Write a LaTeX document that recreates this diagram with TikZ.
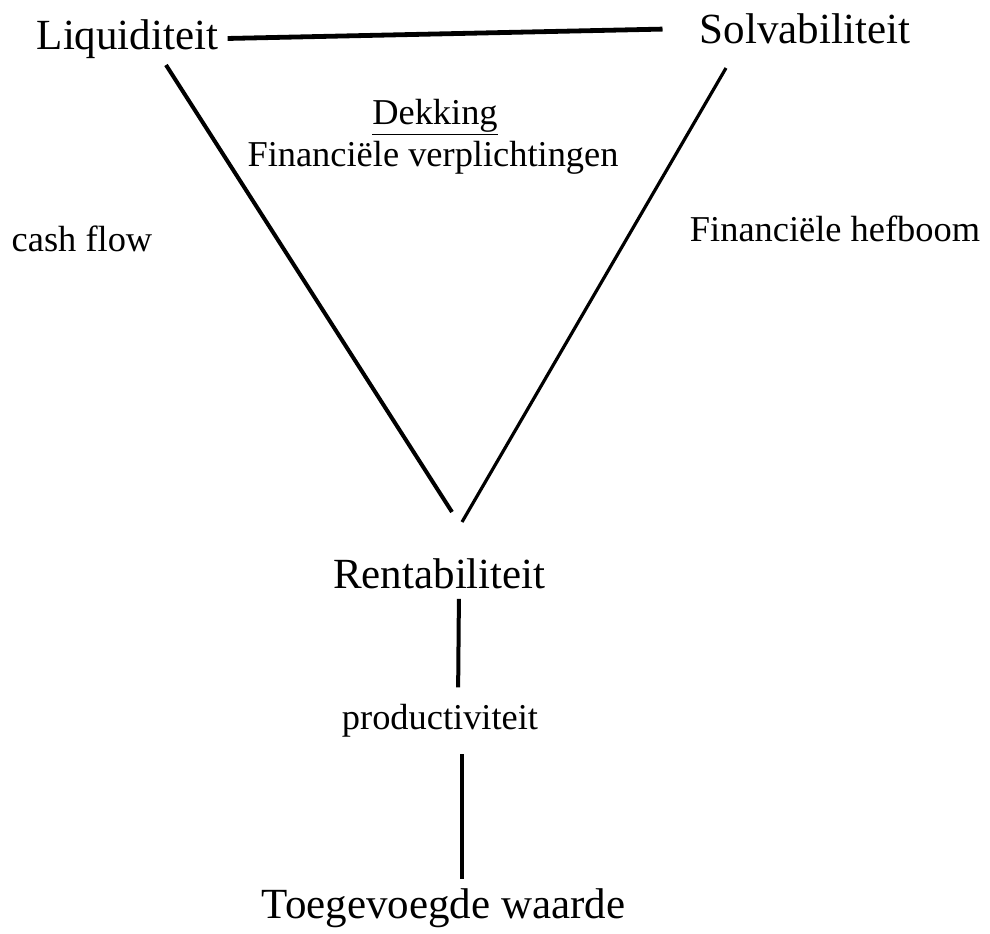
\documentclass[tikz,border=0pt]{standalone}
\usepackage{fontspec}
\setmainfont{Liberation Serif}
\usepackage{tikz}

\tikzset{
  big/.style={anchor=base,inner sep=0pt,font=\fontsize{21.5}{24}\selectfont},
  small/.style={anchor=base,inner sep=0pt,font=\fontsize{18.2}{21}\selectfont},
  link/.style={line width=2pt}
}

\begin{document}
\begin{tikzpicture}[x=0.5pt,y=-0.5pt]
\useasboundingbox (0,0) rectangle (990,933);

\node [big] (liq) at(127.5,49){Liquiditeit};
\node [big] (solv) at(805,43){Solvabiliteit};
\node [big] (rent) at(439.5,588){Rentabiliteit};
\node [small] (prod) at(440,729){productiviteit};
\node [big] (toe) at(443.5,918){Toegevoegde waarde};

\node [small] (dek) at(435,124){\underline{Dekking}};
\node [small] (fv) at(433,166){Financi\"ele verplichtingen};
\node [small] (cash) at(82,251){cash flow};
\node [small] (hef) at(835,241){Financi\"ele hefboom};

% corners of the triangle
\coordinate (lt) at(166,65);
\coordinate (lb) at(452,512);
\coordinate (rt) at(726,68);
\coordinate (rb) at(462,522);

\draw [link,line width=2.4pt,shorten <=4.5pt,shorten >=18.5pt] (liq.east) -- (solv.west);
\draw [link] (lt) -- (lb);
\draw [link,line width=1.6pt] (rt) -- (rb);

\draw [link,shorten <=5pt,shorten >=8pt] ([xshift=9.75pt]rent.south) -- ([xshift=9pt]prod.north);
\draw [link,shorten <=8.5pt,shorten >=4.5pt] ([xshift=11pt]prod.south) -- ([xshift=9.25pt]toe.north);
\end{tikzpicture}
\end{document}
